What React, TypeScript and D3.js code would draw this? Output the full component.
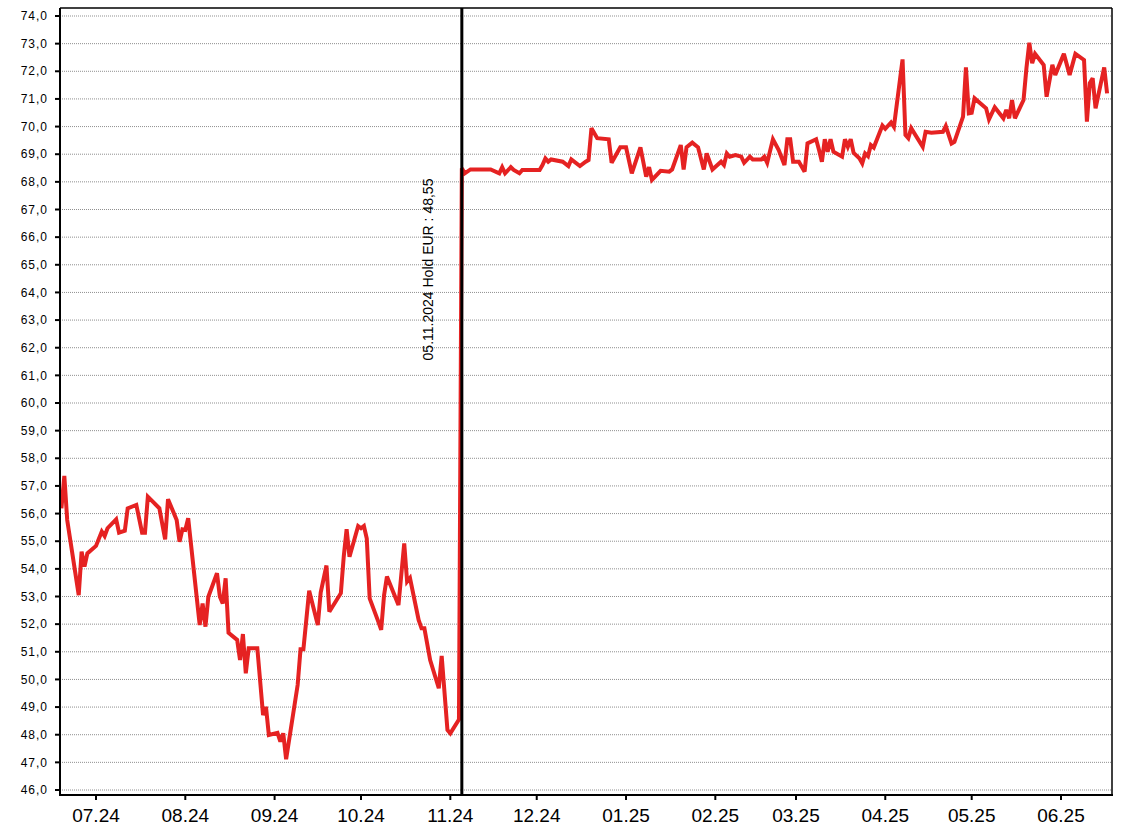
import React from 'react';
import * as d3 from 'd3';

const dates: string[] = [
  '2024-06-19','2024-06-20','2024-06-21','2024-06-25','2024-06-26','2024-06-27','2024-06-28',
  '2024-07-01','2024-07-03','2024-07-04','2024-07-05','2024-07-08','2024-07-09','2024-07-11','2024-07-12',
  '2024-07-15','2024-07-17','2024-07-18','2024-07-19','2024-07-23','2024-07-25','2024-07-26','2024-07-29',
  '2024-07-30','2024-07-31','2024-08-01','2024-08-02','2024-08-06','2024-08-07','2024-08-08','2024-08-09',
  '2024-08-12','2024-08-13','2024-08-14','2024-08-15','2024-08-16','2024-08-19','2024-08-20','2024-08-21',
  '2024-08-22','2024-08-23','2024-08-26','2024-08-28','2024-08-29','2024-08-30','2024-09-02','2024-09-03',
  '2024-09-04','2024-09-05','2024-09-09','2024-09-10','2024-09-11','2024-09-13','2024-09-16','2024-09-17',
  '2024-09-19','2024-09-20','2024-09-24','2024-09-25','2024-09-26','2024-09-27','2024-09-30','2024-10-01',
  '2024-10-02','2024-10-03','2024-10-04','2024-10-07','2024-10-08','2024-10-09','2024-10-10','2024-10-14',
  '2024-10-16','2024-10-17','2024-10-18','2024-10-21','2024-10-22','2024-10-23','2024-10-25','2024-10-28',
  '2024-10-29','2024-10-31','2024-11-01','2024-11-04','2024-11-05','2024-11-06','2024-11-08','2024-11-15',
  '2024-11-18','2024-11-19','2024-11-20','2024-11-22','2024-11-23','2024-11-25','2024-11-26','2024-12-02',
  '2024-12-03','2024-12-04','2024-12-05','2024-12-06','2024-12-10','2024-12-12','2024-12-13','2024-12-16',
  '2024-12-18','2024-12-19','2024-12-20','2024-12-22','2024-12-26','2024-12-27','2024-12-30',
  '2025-01-01','2025-01-03','2025-01-06','2025-01-08','2025-01-09','2025-01-10','2025-01-13','2025-01-16',
  '2025-01-17','2025-01-20','2025-01-21','2025-01-22','2025-01-24','2025-01-26','2025-01-28','2025-01-29',
  '2025-01-31','2025-02-03','2025-02-04','2025-02-05','2025-02-06','2025-02-08','2025-02-10','2025-02-11',
  '2025-02-13','2025-02-14','2025-02-17','2025-02-18','2025-02-19','2025-02-21','2025-02-23','2025-02-25',
  '2025-02-26','2025-02-27','2025-02-28','2025-03-02','2025-03-04','2025-03-05','2025-03-08','2025-03-09',
  '2025-03-10','2025-03-11','2025-03-12','2025-03-13','2025-03-14','2025-03-17','2025-03-18','2025-03-19',
  '2025-03-20','2025-03-21','2025-03-23','2025-03-24','2025-03-25','2025-03-26','2025-03-27','2025-03-28',
  '2025-03-31','2025-04-01','2025-04-03','2025-04-04','2025-04-07','2025-04-08','2025-04-09','2025-04-10',
  '2025-04-14','2025-04-15','2025-04-17','2025-04-21','2025-04-22','2025-04-24','2025-04-25','2025-04-28',
  '2025-04-29','2025-04-30','2025-05-01','2025-05-02','2025-05-06','2025-05-07','2025-05-09','2025-05-12',
  '2025-05-13','2025-05-14','2025-05-15','2025-05-16','2025-05-19','2025-05-20','2025-05-21','2025-05-22',
  '2025-05-23','2025-05-26','2025-05-27','2025-05-29','2025-05-30','2025-06-02','2025-06-04','2025-06-06',
  '2025-06-09','2025-06-10','2025-06-11','2025-06-12','2025-06-13','2025-06-16','2025-06-17',
];

const prices: number[] = [
  56.19, 57.36, 55.77, 53.05, 54.62, 54.08, 54.56,
  54.83, 55.35, 55.19, 55.47, 55.79, 55.31, 55.38, 56.19,
  56.31, 55.31, 55.31, 56.61, 56.19, 55.07, 56.52, 55.77,
  54.98, 55.43, 55.41, 55.83, 51.97, 52.75, 51.91, 52.99,
  53.84, 52.99, 52.75, 53.66, 51.69, 51.43, 50.70, 51.64,
  50.22, 51.13, 51.13, 48.71, 49.01, 47.99, 48.07, 47.75,
  48.05, 47.11, 49.80, 51.09, 51.09, 53.21, 51.97, 53.14,
  54.12, 52.45, 53.12, 54.44, 55.43, 54.44, 55.55, 55.47,
  55.55, 55.10, 52.93, 52.09, 51.79, 53.05, 53.72, 52.69,
  54.92, 53.54, 53.67, 52.15, 51.85, 51.85, 50.70, 49.68,
  50.85, 48.17, 48.05, 48.55, 68.49, 68.31, 68.45, 68.45,
  68.31, 68.53, 68.31, 68.53, 68.43, 68.31, 68.43, 68.43,
  68.61, 68.85, 68.73, 68.81, 68.73, 68.57, 68.81, 68.57,
  68.73, 68.79, 69.94, 69.58, 69.54, 68.69, 69.25,
  69.25, 68.31, 69.25, 68.19, 68.53, 68.07, 68.40, 68.37,
  68.45, 69.33, 68.45, 69.25, 69.42, 69.25, 68.45, 69.03,
  68.45, 68.73, 68.61, 69.03, 68.91, 68.97, 68.91, 68.69,
  68.91, 68.81, 68.81, 68.91, 68.69, 69.54, 69.15, 68.61,
  69.54, 69.54, 68.73, 68.73, 68.37, 69.39, 69.54, 69.15,
  68.73, 69.54, 69.09, 69.54, 69.09, 68.91, 69.54, 69.27,
  69.54, 69.05, 68.85, 68.67, 69.03, 68.93, 69.33, 69.24,
  70.04, 69.92, 70.15, 69.99, 72.43, 69.70, 69.58, 69.94,
  69.27, 69.81, 69.78, 69.81, 70.02, 69.39, 69.45, 70.36,
  72.14, 70.48, 70.50, 71.02, 70.66, 70.26, 70.70, 70.30,
  70.60, 70.30, 70.96, 70.30, 70.96, 72.11, 73.03, 72.29,
  72.63, 72.23, 71.08, 72.23, 71.87, 72.63, 71.87, 72.63,
  72.41, 70.18, 71.57, 71.75, 70.66, 72.14, 71.20,
];

const yTicks: number[] = [46, 47, 48, 49, 50, 51, 52, 53, 54, 55, 56, 57, 58, 59, 60, 61, 62, 63, 64, 65, 66, 67, 68, 69, 70, 71, 72, 73, 74];
const monthTicks: string[] = [
  '2024-07-01', '2024-08-01', '2024-09-01', '2024-10-01', '2024-11-01', '2024-12-01',
  '2025-01-01', '2025-02-01', '2025-03-01', '2025-04-01', '2025-05-01', '2025-06-01',
];
const holdDate = '2024-11-05';
const holdLabel = '05.11.2024 Hold EUR : 48,55';

const W = 1128;
const H = 836;
const L = 60;
const R = 1112;
const T = 8;
const B = 795;

export default function App() {
  const parse = d3.utcParse('%Y-%m-%d');
  const fmtX = d3.utcFormat('%m.%y');
  const fmtY = (v: number) => v.toFixed(1).replace('.', ',');

  const x = d3
    .scaleUtc()
    .domain([new Date(Date.UTC(2024, 5, 18, 12)), new Date(Date.UTC(2025, 5, 18, 17))])
    .range([L, R]);
  const y = d3.scaleLinear().domain([46, 74]).range([790, 16]);

  const data = dates.map((d, i) => ({ date: parse(d) as Date, value: prices[i] }));
  const line = d3
    .line<{ date: Date; value: number }>()
    .x((d) => x(d.date))
    .y((d) => y(d.value));

  const hx = x(parse(holdDate) as Date);
  const font = "'Liberation Sans', Arial, sans-serif";

  return (
    <svg
      width={W}
      height={H}
      style={{ position: 'absolute', left: 0, top: 0, background: '#fff' }}
    >
      <rect x={0} y={0} width={W} height={H} fill="#fff" />
      {yTicks.map((t) => (
        <line
          key={'g' + t}
          x1={L}
          x2={R}
          y1={y(t)}
          y2={y(t)}
          stroke="#8f8f8f"
          strokeWidth={1}
          strokeDasharray="1,1"
        />
      ))}
      <path
        d={line(data) || ''}
        fill="none"
        stroke="#e52222"
        strokeWidth={4}
        strokeLinejoin="miter"
        strokeMiterlimit={3}
      />
      <line x1={hx} x2={hx} y1={T} y2={B} stroke="#000" strokeWidth={3} />
      <text
        transform={`translate(${hx - 29},${(T + B) / 2 - 132}) rotate(-90)`}
        textAnchor="middle"
        fontFamily={font}
        fontSize={14}
        fill="#000"
      >
        {holdLabel}
      </text>
      {/* frame */}
      <line x1={L} x2={R} y1={T} y2={T} stroke="#000" strokeWidth={1.5} />
      <line x1={R} x2={R} y1={T} y2={B} stroke="#000" strokeWidth={1.5} />
      <line x1={L} x2={L} y1={T} y2={B + 1} stroke="#000" strokeWidth={2} />
      <line x1={L - 1} x2={R + 1} y1={B} y2={B} stroke="#000" strokeWidth={2} />
      {yTicks.map((t) => (
        <g key={'y' + t}>
          <line x1={L - 5} x2={L} y1={y(t)} y2={y(t)} stroke="#000" strokeWidth={2} />
          <text
            x={48}
            y={y(t)}
            dy="0.35em"
            textAnchor="end"
            fontFamily={font}
            fontSize={12}
            letterSpacing={1}
            fill="#000"
          >
            {fmtY(t)}
          </text>
        </g>
      ))}
      {monthTicks.map((m) => {
        const d = parse(m) as Date;
        const px = x(d);
        return (
          <g key={'x' + m}>
            <line x1={px} x2={px} y1={B} y2={B + 5} stroke="#000" strokeWidth={2} />
            <text
              x={px}
              y={822}
              textAnchor="middle"
              fontFamily={font}
              fontSize={19}
              fill="#000"
            >
              {fmtX(d)}
            </text>
          </g>
        );
      })}
    </svg>
  );
}
